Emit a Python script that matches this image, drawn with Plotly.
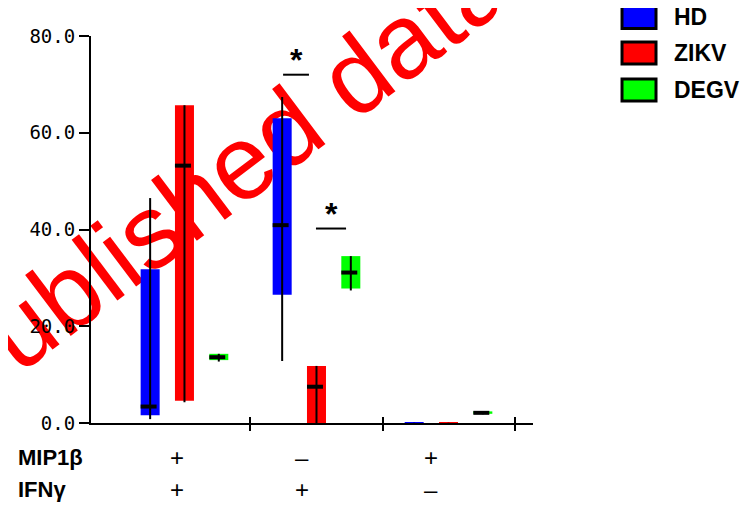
import plotly.graph_objects as go

# ---------------- data ----------------
groups = [0, 1, 2]
series_names = ["HD", "ZIKV", "DEGV"]
series_colors = ["#0000ff", "#ff0000", "#00ff00"]

hd_box_lo = [1.6, 26.5, 0.0]
hd_box_hi = [31.8, 63.0, 0.05]
hd_median = [3.4, 40.9, None]
hd_w_lo = [0.8, 12.8, 0.0]
hd_w_hi = [46.5, 67.4, 0.05]

zikv_box_lo = [4.6, 0.0, 0.0]
zikv_box_hi = [65.7, 11.8, 0.05]
zikv_median = [53.2, 7.5, None]
zikv_w_lo = [4.3, 0.0, 0.0]
zikv_w_hi = [65.7, 11.8, 0.05]

degv_box_lo = [13.0, 27.8, 1.9]
degv_box_hi = [14.3, 34.5, 2.4]
degv_median = [13.6, 31.1, 2.1]
degv_w_lo = [12.7, 27.4, 1.8]
degv_w_hi = [14.3, 34.5, 2.4]

y_tickvals = [0, 20, 40, 60, 80]
y_ticktext = ["0.0", "20.0", "40.0", "60.0", "80.0"]

row_names = ["MIP1β", "IFNγ"]
mip1b_signs = ["+", "–", "+"]
ifng_signs = ["+", "+", "–"]

sig_centers = [0.845, 1.11]
sig_halfwidths = [0.098, 0.114]
sig_levels = [72.0, 40.2]
sig_labels = ["*", "*"]

watermark_text = "Unpublished data"

# ---------------- layout constants ----------------
offsets = [-0.26, 0.0, 0.26]
bar_w = 0.144
med_left, med_right = -0.072, 0.049
label_shift = [-7, -14, -18]

series = [
    (hd_box_lo, hd_box_hi, hd_median, hd_w_lo, hd_w_hi),
    (zikv_box_lo, zikv_box_hi, zikv_median, zikv_w_lo, zikv_w_hi),
    (degv_box_lo, degv_box_hi, degv_median, degv_w_lo, degv_w_hi),
]

fig = go.Figure()

for (lo, hi, med, wlo, whi), name, color, off in zip(series, series_names, series_colors, offsets):
    xs = [g + off for g in groups]
    fig.add_trace(go.Bar(
        x=xs, y=[h - l for l, h in zip(lo, hi)], base=lo, width=bar_w,
        marker=dict(color=color, line=dict(width=0)), name=name, showlegend=False,
        error_y=dict(type="data", symmetric=False,
                     array=[w - h for w, h in zip(whi, hi)],
                     arrayminus=[h - w for w, h in zip(wlo, hi)],
                     color="black", thickness=2, width=0),
    ))

for (lo, hi, med, wlo, whi), off in zip(series, offsets):
    mx, my = [], []
    for g, m in zip(groups, med):
        if m is None:
            continue
        c = g + off
        mx += [c + med_left, c + med_right, None]
        my += [m, m, None]
    fig.add_trace(go.Scatter(x=mx, y=my, mode="lines", line=dict(color="black", width=4),
                             showlegend=False, hoverinfo="skip"))

sx, sy = [], []
for c, hw, lv in zip(sig_centers, sig_halfwidths, sig_levels):
    sx += [c - hw, c + hw, None]
    sy += [lv, lv, None]
fig.add_trace(go.Scatter(x=sx, y=sy, mode="lines", line=dict(color="black", width=2),
                         showlegend=False, hoverinfo="skip"))

annotations = []
for c, lv, lab in zip(sig_centers, sig_levels, sig_labels):
    annotations.append(dict(x=c, y=lv, xref="x", yref="y", text=f"<b>{lab}</b>", showarrow=False,
                            yshift=15, font=dict(family="Liberation Sans", size=32, color="black")))

row_y = [-0.088, -0.173]
for name, ry, signs in zip(row_names, row_y, [mip1b_signs, ifng_signs]):
    annotations.append(dict(x=-75 / 442, y=ry, xref="paper", yref="paper", text=f"<b>{name}</b>",
                            showarrow=False, xanchor="left", yanchor="middle",
                            font=dict(family="Liberation Sans", size=22, color="black")))
    for g, s, sh in zip(groups, signs, label_shift):
        annotations.append(dict(x=g, y=ry, xref="x", yref="paper", text=s, showarrow=False,
                                xshift=sh, yanchor="middle",
                                font=dict(family="Liberation Sans", size=24, color="black")))

# legend (manual)
shapes = []
leg_y = [1.048, 0.956, 0.8605]
for name, color, ly in zip(series_names, series_colors, leg_y):
    shapes.append(dict(type="rect", xref="paper", yref="paper", x0=1.2014, x1=1.2783,
                       y0=ly - 0.0285, y1=ly + 0.0285, fillcolor=color,
                       line=dict(color="black", width=3)))
    annotations.append(dict(x=1.3145, y=ly, xref="paper", yref="paper", text=f"<b>{name}</b>",
                            showarrow=False, xanchor="left", yanchor="middle",
                            font=dict(family="Liberation Sans", size=23, color="black")))

# watermark behind data
shapes.append(dict(type="rect", xref="paper", yref="paper", x0=0.153, x1=0.173, y0=0.543, y1=0.568,
                   line=dict(width=0), fillcolor="rgba(0,0,0,0)", layer="below",
                   label=dict(text=watermark_text, textangle=-37, textposition="middle center",
                              font=dict(family="Liberation Sans", size=105, color="#ff0000"))))

xr = [-0.708, 2.64]
fig.update_layout(
    width=755, height=510,
    margin=dict(l=83, r=230, t=28, b=95),
    paper_bgcolor="white", plot_bgcolor="rgba(0,0,0,0)",
    barmode="overlay", showlegend=False,
    xaxis=dict(range=xr, tickvals=[0.5, 1.5, 2.5], showticklabels=False, ticks="outside",
               ticklen=6, tickwidth=2, tickcolor="black", showline=True, linecolor="black",
               linewidth=2, showgrid=False, zeroline=False),
    xaxis2=dict(range=xr, overlaying="x", anchor="y", side="bottom", tickvals=[0.5, 1.5, 2.5],
                showticklabels=False, ticks="inside", ticklen=6, tickwidth=2, tickcolor="black",
                showline=False, showgrid=False, zeroline=False),
    yaxis=dict(range=[0, 80], tickvals=y_tickvals, ticktext=y_ticktext, ticks="outside",
               ticklen=10, tickwidth=2, tickcolor="black", showline=True, linecolor="black",
               linewidth=2, showgrid=False, zeroline=False,
               tickfont=dict(family="DejaVu Sans Mono", size=19, color="black")),
    annotations=annotations, shapes=shapes,
)
fig.add_trace(go.Scatter(x=[None], y=[None], xaxis="x2", yaxis="y", showlegend=False))

fig.write_html("out.html")
